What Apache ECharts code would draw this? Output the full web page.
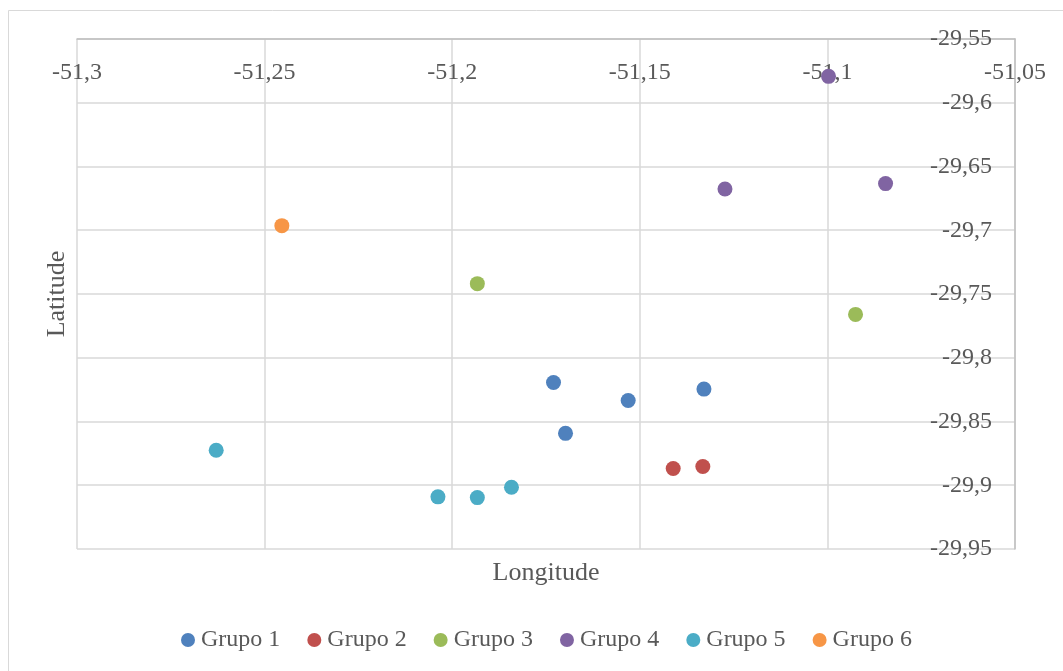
<!DOCTYPE html>
<html>
<head>
<meta charset="utf-8">
<script src="https://cdn.jsdelivr.net/npm/echarts@6/dist/echarts.min.js"></script>
<style>
  html, body { margin: 0; padding: 0; background: #fff; }
  #chart { width: 1063px; height: 671px; }
</style>
</head>
<body>
<div id="chart"></div>
<script>
// Group locations: [longitude, latitude]
const grupo1 = [[-51.1730, -29.8194], [-51.1531, -29.8335], [-51.1329, -29.8246], [-51.1698, -29.8593]];
const grupo2 = [[-51.1411, -29.8869], [-51.1332, -29.8853]];
const grupo3 = [[-51.1933, -29.7419], [-51.0925, -29.7660]];
const grupo4 = [[-51.0997, -29.5793], [-51.1273, -29.6676], [-51.0845, -29.6634]];
const grupo5 = [[-51.2629, -29.8726], [-51.2038, -29.9091], [-51.1933, -29.9097], [-51.1842, -29.9016]];
const grupo6 = [[-51.2454, -29.6964]];

const seriesNames = ['Grupo 1', 'Grupo 2', 'Grupo 3', 'Grupo 4', 'Grupo 5', 'Grupo 6'];
const seriesData = [grupo1, grupo2, grupo3, grupo4, grupo5, grupo6];
const colors = ['#4F81BD', '#C0504D', '#9BBB59', '#8064A2', '#4BACC6', '#F79646'];

const lonRange = { min: -51.3, max: -51.05, interval: 0.05 };
const latRange = { min: -29.95, max: -29.55, interval: 0.05 };

const FONT = 'Liberation Serif';
const TEXT = '#595959';
const GRID = '#d9d9d9';
const AXIS = '#bfbfbf';

const comma = v => String(+v.toFixed(2)).replace('.', ',');

const chart = echarts.init(document.getElementById('chart'), null, { renderer: 'canvas' });
chart.setOption({
  backgroundColor: '#ffffff',
  animation: false,
  color: colors,
  textStyle: { fontFamily: FONT, color: TEXT },
  graphic: [{
    type: 'rect', silent: true,
    shape: { x: 8.5, y: 10.5, width: 1100, height: 700 },
    style: { fill: 'none', stroke: GRID, lineWidth: 1 }
  }],
  grid: { left: 77, top: 39, right: 48, bottom: 122, containLabel: false },
  legend: {
    bottom: 14, left: 176,
    icon: 'circle', itemWidth: 14, itemHeight: 14, itemGap: 27,
    textStyle: { fontFamily: FONT, fontSize: 24, color: TEXT, padding: [0, 0, 0, 1] },
    data: seriesNames
  },
  xAxis: [{
    type: 'value', position: 'top',
    min: lonRange.min, max: lonRange.max, interval: lonRange.interval,
    axisLine: { show: true, onZero: false, lineStyle: { color: AXIS, width: 1.5 } },
    axisTick: { show: false },
    axisLabel: { inside: true, margin: 22, fontFamily: FONT, fontSize: 24, color: TEXT,
                 showMinLabel: true, showMaxLabel: true, formatter: comma },
    splitLine: { show: true, lineStyle: { color: GRID, width: 1.5 } }
  }, {
    type: 'value', position: 'bottom',
    min: lonRange.min, max: lonRange.max,
    name: 'Longitude', nameLocation: 'middle', nameGap: 11,
    nameTextStyle: { fontFamily: FONT, fontSize: 26, color: TEXT },
    axisLine: { show: false }, axisTick: { show: false },
    axisLabel: { show: false }, splitLine: { show: false }
  }],
  yAxis: [{
    type: 'value', position: 'right',
    min: latRange.min, max: latRange.max, interval: latRange.interval,
    axisLine: { show: true, onZero: false, lineStyle: { color: AXIS, width: 1.5 } },
    axisTick: { show: false },
    axisLabel: { inside: true, margin: 23, fontFamily: FONT, fontSize: 24, color: TEXT,
                 showMinLabel: true, showMaxLabel: true, formatter: comma },
    splitLine: { show: true, lineStyle: { color: GRID, width: 1.5 } }
  }, {
    type: 'value', position: 'left',
    min: latRange.min, max: latRange.max,
    name: 'Latitude', nameLocation: 'middle', nameGap: 7, nameRotate: 90,
    nameTextStyle: { fontFamily: FONT, fontSize: 26, color: TEXT },
    axisLine: { show: false }, axisTick: { show: false },
    axisLabel: { show: false }, splitLine: { show: false }
  }],
  series: seriesNames.map((name, i) => ({
    name: name,
    type: 'scatter',
    xAxisIndex: 0, yAxisIndex: 0,
    symbol: 'circle', symbolSize: 15,
    itemStyle: { color: colors[i], opacity: 1 },
    data: seriesData[i]
  }))
});
</script>
</body>
</html>
